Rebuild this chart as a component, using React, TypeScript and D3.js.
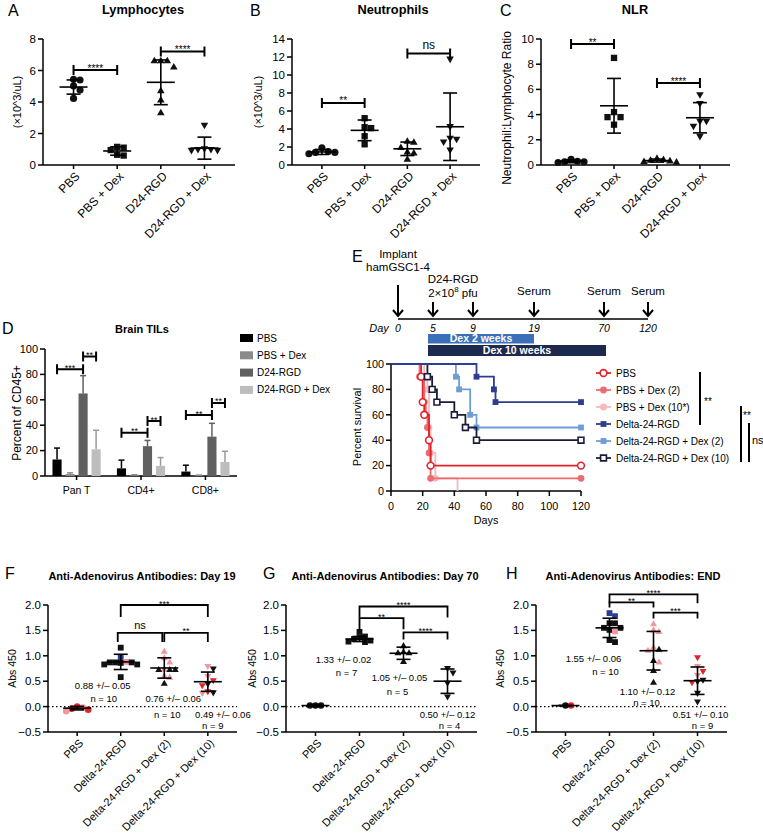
import React from "react";
import * as d3 from "d3";

const FONT = "'Liberation Sans', Arial, Helvetica, sans-serif";
const RED = "#e2232a";
const PINK = "#f2979d";
const BLUE = "#2c3e94";
const BLK = "#111111";
const colorMap: Record<string, string> = { k: BLK, r: RED, p: PINK, b: BLUE };

// ---------------- A–C : blood counts ----------------
const bloodGroups = ["PBS", "PBS + Dex", "D24-RGD", "D24-RGD + Dex"];
const lymphValues = [[5.44, 5.4, 5.02, 4.76, 4.23], [1.15, 1.1, 0.95, 0.65, 0.6], [6.6, 6.6, 6.6, 6.2, 4.7, 4.1, 3.3], [2.55, 1.05, 1.0, 1.0, 0.95, 0.95]];
const lymphMean = [4.95, 0.89, 5.25, 1.07];
const lymphSD = [0.45, 0.27, 1.42, 0.7];
const neutValues = [[1.9, 1.5, 1.4, 1.4, 1.25], [5.2, 4.2, 4.1, 3.2, 2.3], [2.6, 2.5, 1.9, 1.4, 1.3, 0.6], [11.8, 4.3, 3.0, 2.9, 2.6, 1.7]];
const neutMean = [1.45, 3.85, 1.8, 4.25];
const neutSD = [0.28, 1.15, 0.75, 3.75];
const nlrValues = [[0.45, 0.3, 0.25, 0.25, 0.2], [8.5, 4.2, 3.8, 3.8, 3.2], [0.5, 0.4, 0.35, 0.3, 0.25, 0.2], [5.6, 4.9, 3.5, 3.5, 3.1, 2.3]];
const nlrMean = [0.3, 4.7, 0.35, 3.75];
const nlrSD = [0.12, 2.17, 0.12, 1.2];

// ---------------- D : Brain TILs ----------------
const tilGroups = ["Pan T", "CD4+", "CD8+"];
const tilSeries = ["PBS", "PBS + Dex", "D24-RGD", "D24-RGD + Dex"];
const tilMeans = [[13, 1.5, 65, 21], [6, 0.5, 23.5, 8], [3.5, 0.4, 31, 11]];
const tilErr = [[9, 1, 14, 15], [6.5, 0.5, 4.5, 6.5], [5, 0.3, 10.5, 8.5]];

// ---------------- E : timeline & survival ----------------
const timelineDays = [0, 5, 9, 19, 70, 120];
const survivalNames = ["PBS", "PBS + Dex (2)", "PBS + Dex (10*)", "Delta-24-RGD", "Delta-24-RGD + Dex (2)", "Delta-24-RGD + Dex (10)"];
const survPBS = [[0, 100], [19, 90], [20, 70], [21, 60], [24, 40], [25, 20], [120, 20]];
const survPBSDex2 = [[0, 100], [18, 90], [21, 70], [22, 60], [23, 50], [24, 30], [25, 10], [120, 10]];
const survPBSDex10 = [[0, 100], [21, 90], [23, 80], [24, 50], [25, 30], [28, 10], [42, 0]];
const survD24 = [[0, 100], [54, 90], [65, 80], [66, 70], [120, 70]];
const survD24Dex2 = [[0, 100], [41, 90], [43, 80], [50, 60], [54, 50], [120, 50]];
const survD24Dex10 = [[0, 100], [23, 90], [26, 80], [29, 70], [40, 60], [47, 50], [54, 40], [120, 40]];

// ---------------- F–H : antibodies ----------------
const abGroups = ["PBS", "Delta-24-RGD", "Delta-24-RGD + Dex (2)", "Delta-24-RGD + Dex (10)"];
const day19Values = [[0.0, -0.02, -0.04, -0.06, -0.09], [1.16, 0.97, 0.88, 0.87, 0.87, 0.87, 0.86, 0.83, 0.83, 0.58], [1.08, 0.95, 0.87, 0.73, 0.72, 0.72, 0.72, 0.6, 0.57, 0.45], [0.8, 0.75, 0.6, 0.52, 0.45, 0.42, 0.3, 0.28, 0.27]];
const day19Colors = [["r", "p", "r", "r", "p"], ["k", "b", "p", "k", "k", "k", "k", "k", "k", "k"], ["p", "p", "p", "p", "k", "k", "k", "p", "p", "k"], ["p", "k", "p", "r", "k", "r", "r", "k", "p"]];
const day19Mean = [-0.03, 0.88, 0.76, 0.49];
const day19SD = [0.035, 0.15, 0.2, 0.19];
const day70Values = [[0.02, 0.02, 0.02], [1.47, 1.38, 1.36, 1.33, 1.3, 1.28, 1.27], [1.19, 1.07, 1.05, 1.05, 0.88], [0.76, 0.67, 0.47, 0.2]];
const day70Mean = [0.02, 1.33, 1.05, 0.5];
const day70SD = [0.01, 0.05, 0.12, 0.24];
const endValues = [[0.02, 0.02], [1.84, 1.78, 1.64, 1.64, 1.55, 1.55, 1.51, 1.48, 1.31, 1.27], [1.62, 1.5, 1.47, 1.16, 1.12, 1.1, 0.9, 0.87, 0.7, 0.47], [0.97, 0.8, 0.7, 0.62, 0.53, 0.5, 0.48, 0.27, 0.1]];
const endColors = [["k", "r"], ["b", "b", "k", "k", "k", "k", "k", "p", "k", "k"], ["p", "p", "p", "p", "k", "p", "k", "p", "k", "k"], ["r", "p", "r", "p", "k", "k", "r", "k", "k"]];
const endMean = [0.02, 1.55, 1.1, 0.51];
const endSD = [0.005, 0.19, 0.38, 0.27];

// ---------------- helpers ----------------
const symType: Record<string, any> = {
  circle: d3.symbolCircle,
  square: d3.symbolSquare,
  triangle: d3.symbolTriangle,
  invTriangle: d3.symbolTriangle,
};

function Sym({ shape, x, y, size, fill, stroke, sw }: any) {
  const isTri = shape === "triangle" || shape === "invTriangle";
  const path = d3.symbol().type(symType[shape]).size(isTri ? size * 0.62 : size)() as string;
  const rot = shape === "invTriangle" ? " rotate(180)" : "";
  return <path d={path} transform={`translate(${x},${y})${rot}`} fill={fill} stroke={stroke || "none"} strokeWidth={sw || 0} />;
}

function swarm(ys: number[], minDist: number, step: number): number[] {
  const idx = ys.map((_, i) => i).sort((a, b) => ys[a] - ys[b]);
  const placed: [number, number][] = [];
  const out = new Array(ys.length).fill(0);
  for (const i of idx) {
    for (let k = 0; k < 40; k++) {
      const off = k === 0 ? 0 : (k % 2 === 1 ? 1 : -1) * Math.ceil(k / 2) * step;
      if (placed.every(([px, py]) => Math.hypot(px - off, py - ys[i]) >= minDist)) {
        out[i] = off;
        placed.push([off, ys[i]]);
        break;
      }
    }
  }
  return out;
}

function Bracket({ x1, x2, y, label, mode, drop, fs, sw = 2 }: any) {
  const d = mode === "center"
    ? `M${x1},${y - drop}V${y + drop}M${x1},${y}H${x2}M${x2},${y - drop}V${y + drop}`
    : `M${x1},${y + drop}V${y}H${x2}V${y + drop}`;
  const star = label.includes("*");
  return (
    <g>
      <path d={d} fill="none" stroke="#000" strokeWidth={sw} />
      <text x={(x1 + x2) / 2} y={star ? y + 1.5 : y - 4} textAnchor="middle" fontSize={star ? fs : fs + 2} fill="#000">{label}</text>
    </g>
  );
}

function YAxis({ x, scale, ticks, fmt, fs }: any) {
  const [r0, r1] = scale.range();
  return (
    <g>
      <line x1={x} x2={x} y1={r0} y2={r1} stroke="#000" strokeWidth={1.5} />
      {ticks.map((t: number) => (
        <g key={t}>
          <line x1={x - 5} x2={x} y1={scale(t)} y2={scale(t)} stroke="#000" strokeWidth={1.5} />
          <text x={x - 7} y={scale(t)} dy="0.35em" textAnchor="end" fontSize={fs}>{fmt(t)}</text>
        </g>
      ))}
    </g>
  );
}

function ScatterPanel(p: any) {
  const y = d3.scaleLinear().domain(p.domain).range([p.bottom, p.top]);
  const x = d3.scalePoint<number>().domain(d3.range(p.cats.length)).range([p.left, p.right]).padding(p.pad);
  const ticks = d3.range(p.domain[0], p.domain[1] + 1e-9, p.tickStep);
  const axisY = y(p.domain[0]);
  return (
    <g>
      <text x={p.letterX} y={p.letterY} fontSize={16}>{p.letter}</text>
      <text x={p.titleX} y={p.titleY} fontSize={p.titleSize} fontWeight="bold" textAnchor="middle">{p.title}</text>
      <text transform={`translate(${p.ylabelX},${(p.top + p.bottom) / 2 + (p.ylabelDy || 0)}) rotate(-90)`} textAnchor="middle" dy="0.35em" fontSize={p.ylabelSize}>{p.ylabel}</text>
      <YAxis x={p.left} scale={y} ticks={ticks} fmt={p.fmt} fs={p.tickSize} />
      <line x1={p.left} x2={p.right} y1={axisY} y2={axisY} stroke="#000" strokeWidth={1.5} />
      {p.zeroLine && <line x1={p.left} x2={p.right} y1={y(0)} y2={y(0)} stroke="#000" strokeWidth={1.2} strokeDasharray="1.5,2.5" />}
      {p.cats.map((c: string, i: number) => (
        <g key={c}>
          <line x1={x(i)} x2={x(i)} y1={axisY} y2={axisY + 4} stroke="#000" strokeWidth={1.5} />
          <text transform={`translate(${(x(i) as number) + 4},${axisY + 9}) rotate(-45)`} textAnchor="end" dy="0.35em" fontSize={p.labelSize}>{c}</text>
        </g>
      ))}
      {p.values.map((vals: number[], g: number) => {
        const ys = vals.map((v) => y(v));
        const offs = swarm(ys, p.minDist, p.step);
        const cx = x(g) as number;
        return (
          <g key={g}>
            {vals.map((v, j) => (
              <Sym key={j} shape={p.shapes[g]} x={cx + offs[j]} y={ys[j]} size={p.symSize}
                fill={p.colors ? colorMap[p.colors[g][j]] : BLK} />
            ))}
          </g>
        );
      })}
      {p.means.map((m: number, g: number) => {
        const cx = x(g) as number;
        const lo = y(m - p.sds[g]);
        const hi = y(m + p.sds[g]);
        return (
          <g key={"e" + g} stroke="#000" strokeWidth={1.6}>
            <line x1={cx - 14} x2={cx + 14} y1={y(m)} y2={y(m)} />
            <line x1={cx} x2={cx} y1={lo} y2={hi} />
            <line x1={cx - 7} x2={cx + 7} y1={lo} y2={lo} />
            <line x1={cx - 7} x2={cx + 7} y1={hi} y2={hi} />
          </g>
        );
      })}
      {p.brackets.map((b: any, i: number) => (
        <Bracket key={i} x1={(x(b.a) as number) - (b.ia || 0)} x2={(x(b.b) as number) + (b.ib || 0)} y={y(b.v)} label={b.label} mode={p.bracketMode} drop={b.drop} fs={p.starSize} sw={p.bracketWidth} />
      ))}
      {(p.notes || []).map((n: any, i: number) => (
        <text key={i} x={(x(n.cat) as number) + n.dx} y={y(n.v)} dy="0.35em" textAnchor="middle" fontSize={p.noteSize}>{n.text}</text>
      ))}
    </g>
  );
}

function TILPanel() {
  const left = 45, right = 237;
  const y = d3.scaleLinear().domain([0, 100]).range([476, 349]);
  const gx = d3.scalePoint<string>().domain(tilGroups).range([left, right]).padding(0.49);
  const bx = d3.scaleBand<string>().domain(tilSeries).range([-28, 28]).padding(0.3);
  const colors = ["#000000", "#8a8a8a", "#606060", "#bdbdbd"];
  const bc = (g: number, s: number) => (gx(tilGroups[g]) as number) + (bx(tilSeries[s]) as number) + bx.bandwidth() / 2;
  const brackets = [
    { g: 0, a: 0, b: 2, v: 84, label: "***" }, { g: 0, a: 2, b: 3, v: 94, label: "**" },
    { g: 1, a: 0, b: 2, v: 34, label: "**" }, { g: 1, a: 2, b: 3, v: 43.3, label: "**" },
    { g: 2, a: 0, b: 2, v: 48, label: "**" }, { g: 2, a: 2, b: 3, v: 57.5, label: "**" },
  ];
  return (
    <g>
      <text x={2} y={334} fontSize={16}>D</text>
      <text x={142} y={333} fontSize={11} fontWeight="bold" textAnchor="middle">Brain TILs</text>
      <text transform={`translate(17,413) rotate(-90)`} textAnchor="middle" dy="0.35em" fontSize={12}>Percent of CD45+</text>
      <YAxis x={left} scale={y} ticks={d3.range(0, 101, 20)} fmt={(d: number) => String(d)} fs={11} />
      <line x1={left} x2={right} y1={476} y2={476} stroke="#000" strokeWidth={1.5} />
      {tilGroups.map((g, gi) => (
        <g key={g}>
          <line x1={gx(g)} x2={gx(g)} y1={476} y2={480} stroke="#000" strokeWidth={1.5} />
          <text x={gx(g)} y={494} textAnchor="middle" fontSize={10.5}>{g}</text>
          {tilSeries.map((s, si) => {
            const m = tilMeans[gi][si];
            const e = tilErr[gi][si];
            const cx = bc(gi, si);
            return (
              <g key={s}>
                <line x1={cx} x2={cx} y1={y(m)} y2={y(m + e)} stroke={si === 3 ? "#9a9a9a" : colors[si]} strokeWidth={1.5} />
                <line x1={cx - 3} x2={cx + 3} y1={y(m + e)} y2={y(m + e)} stroke={si === 3 ? "#9a9a9a" : colors[si]} strokeWidth={1.5} />
                <rect x={cx - bx.bandwidth() / 2} width={bx.bandwidth()} y={y(m)} height={476 - y(m)} fill={colors[si]} />
              </g>
            );
          })}
        </g>
      ))}
      {brackets.map((b, i) => (
        <Bracket key={i} x1={bc(b.g, b.a)} x2={bc(b.g, b.b)} y={y(b.v)} label={b.label} mode="center" drop={5} fs={9} sw={2} />
      ))}
      {tilSeries.map((s, i) => (
        <g key={s}>
          <rect x={240} y={334 + i * 17.3} width={13} height={8} fill={colors[i]} />
          <text x={257} y={338 + i * 17.3} dy="0.35em" fontSize={10}>{s}</text>
        </g>
      ))}
    </g>
  );
}

function TimelinePanel() {
  const tl = d3.scaleLinear().domain(timelineDays).range([0, 0.14, 0.3, 0.544, 0.824, 1].map((f) => 398 + f * 250));
  const lineY = 319;
  const arrow = (x: number, y0: number, key: string) => (
    <g key={key} stroke="#000" strokeWidth={2} fill="none">
      <line x1={x} x2={x} y1={y0} y2={lineY - 3} />
      <path d={`M${x - 5},${lineY - 9}L${x},${lineY - 3}L${x + 5},${lineY - 9}`} />
    </g>
  );
  return (
    <g>
      <text x={352} y={262} fontSize={16}>E</text>
      <text x={tl(0)} y={258} textAnchor="middle" fontSize={11.5}>Implant</text>
      <text x={tl(0)} y={271} textAnchor="middle" fontSize={11.5}>hamGSC1-4</text>
      <text x={(tl(5) + tl(9)) / 2} y={283} textAnchor="middle" fontSize={11.5}>D24-RGD</text>
      <text x={(tl(5) + tl(9)) / 2} y={297} textAnchor="middle" fontSize={11.5}>2×10<tspan fontSize={8} dy={-5}>8</tspan><tspan dy={5}> pfu</tspan></text>
      {[19, 70, 120].map((d) => (
        <text key={d} x={tl(d)} y={295} textAnchor="middle" fontSize={11.5}>Serum</text>
      ))}
      {arrow(tl(0), 285, "a0")}
      {timelineDays.slice(1).map((d) => arrow(tl(d), 302, "a" + d))}
      <line x1={tl(0)} x2={tl(120)} y1={lineY} y2={lineY} stroke="#000" strokeWidth={1.5} />
      <text x={379} y={332} textAnchor="middle" fontSize={11} fontStyle="italic">Day</text>
      {timelineDays.map((d) => (
        <text key={d} x={tl(d)} y={332} textAnchor="middle" fontSize={10.5} fontStyle="italic">{d}</text>
      ))}
      <rect x={tl(5) - 5} y={334} width={tl(19) - tl(5) + 5} height={9.5} fill="#3b70b8" />
      <text x={(tl(5) - 5 + tl(19)) / 2} y={338.8} dy="0.35em" textAnchor="middle" fontSize={10.5} fontWeight="bold" fill="#fff">Dex 2 weeks</text>
      <rect x={tl(5) - 5} y={345} width={tl(70) - tl(5) + 7} height={11} fill="#1d2a50" />
      <text x={(tl(5) - 5 + tl(70) + 2) / 2} y={350.5} dy="0.35em" textAnchor="middle" fontSize={10.5} fontWeight="bold" fill="#fff">Dex 10 weeks</text>
    </g>
  );
}

function SurvivalPanel() {
  const x = d3.scaleLinear().domain([0, 120]).range([391, 581]);
  const y = d3.scaleLinear().domain([0, 100]).range([491, 364]);
  const data = [survPBS, survPBSDex2, survPBSDex10, survD24, survD24Dex2, survD24Dex10];
  const styles = [
    { c: RED, shape: "circle", open: true },
    { c: "#ec6b70", shape: "circle", open: false },
    { c: "#f6b9bc", shape: "circle", open: false },
    { c: "#2e3c91", shape: "square", open: false },
    { c: "#6d9fd6", shape: "square", open: false },
    { c: "#1a1d3a", shape: "square", open: true },
  ];
  const order = [2, 1, 0, 4, 5, 3];
  const line = d3.line<number[]>().x((d) => x(d[0])).y((d) => y(d[1])).curve(d3.curveStepAfter);
  const mk = (s: any, px: number, py: number, key: any) => (
    <Sym key={key} shape={s.shape} x={px} y={py} size={s.shape === "circle" ? 36 : 34}
      fill={s.open ? "#fff" : s.c} stroke={s.c} sw={s.open ? 1.6 : 0} />
  );
  return (
    <g>
      <text transform={`translate(357,427) rotate(-90)`} textAnchor="middle" dy="0.35em" fontSize={11}>Percent survival</text>
      <YAxis x={391} scale={y} ticks={d3.range(0, 101, 20)} fmt={(d: number) => String(d)} fs={10.8} />
      <line x1={391} x2={581} y1={491} y2={491} stroke="#000" strokeWidth={1.5} />
      {d3.range(0, 121, 20).map((t) => (
        <g key={t}>
          <line x1={x(t)} x2={x(t)} y1={491} y2={496} stroke="#000" strokeWidth={1.5} />
          <text x={x(t)} y={506} dy="0.35em" textAnchor="middle" fontSize={10.8}>{t}</text>
        </g>
      ))}
      <text x={486} y={520} dy="0.35em" textAnchor="middle" fontSize={10.8}>Days</text>
      {order.map((i) => (
        <g key={i}>
          <path d={line(data[i]) as string} fill="none" stroke={styles[i].c} strokeWidth={1.8} />
          {data[i].slice(1).filter((d) => d[1] > 0).map((d, j) => mk(styles[i], x(d[0]), y(d[1]), j))}
        </g>
      ))}
      {survivalNames.map((n, i) => (
        <g key={n}>
          <line x1={596} x2={611} y1={373 + i * 17} y2={373 + i * 17} stroke={styles[i].c} strokeWidth={1.8} />
          {mk(styles[i], 603.5, 373 + i * 17, "m")}
          <text x={616} y={373 + i * 17} dy="0.35em" fontSize={10}>{n}</text>
        </g>
      ))}
      <line x1={700} x2={700} y1={372} y2={425} stroke="#000" strokeWidth={2} />
      <text x={704} y={405} fontSize={10} fill="#000">**</text>
      <line x1={741} x2={741} y1={406} y2={462} stroke="#000" strokeWidth={2} />
      <text x={743} y={419} fontSize={10} fill="#000">**</text>
      <line x1={749} x2={749} y1={423} y2={462} stroke="#000" strokeWidth={2} />
      <text x={752} y={444} fontSize={11} fill="#000">ns</text>
    </g>
  );
}

const bloodCommon = {
  top: 39, bottom: 165, pad: 0.7, cats: bloodGroups,
  shapes: ["circle", "square", "triangle", "invTriangle"],
  titleY: 14, titleSize: 12.8, letterY: 16, tickSize: 11.5, labelSize: 12,
  ylabelSize: 11, symSize: 40, minDist: 6.5, step: 6.5, bracketMode: "center",
  starSize: 10, bracketWidth: 2, noteSize: 9.5,
};

const abCommon = {
  top: 605, bottom: 732, pad: 0.67, cats: abGroups, domain: [-0.5, 2.0], tickStep: 0.5,
  fmt: (d: number) => (d < 0 ? "\u2212" : "") + Math.abs(d).toFixed(1),
  shapes: ["circle", "square", "triangle", "invTriangle"],
  titleY: 580, titleSize: 11, letterY: 579, tickSize: 11.5, labelSize: 11,
  ylabel: "Abs 450", ylabelSize: 10.5, symSize: 34, minDist: 5.5, step: 5.5,
  bracketMode: "down", starSize: 9, bracketWidth: 1.8, noteSize: 9.5, zeroLine: true,
};

export default function App() {
  return (
    <svg width={763} height={839} style={{ position: "absolute", left: 0, top: 0, background: "#fff" }} fontFamily={FONT}>
      <ScatterPanel {...bloodCommon} left={43} right={235} domain={[0, 8]} tickStep={2} fmt={(d: number) => String(d)}
        values={lymphValues} means={lymphMean} sds={lymphSD} title="Lymphocytes" titleX={143} letter="A" letterX={8}
        ylabel="(×10^3/uL)" ylabelX={17}
        brackets={[{ a: 0, b: 1, v: 6.03, label: "****", drop: 5 }, { a: 2, b: 3, v: 7.2, label: "****", drop: 5 }]} />
      <ScatterPanel {...bloodCommon} left={292} right={480} domain={[0, 14]} tickStep={2} fmt={(d: number) => String(d)}
        values={neutValues} means={neutMean} sds={neutSD} title="Neutrophils" titleX={393} letter="B" letterX={250}
        ylabel="(×10^3/uL)" ylabelX={258}
        brackets={[{ a: 0, b: 1, v: 6.9, label: "**", drop: 5 }, { a: 2, b: 3, v: 12.4, label: "ns", drop: 5 }]} />
      <ScatterPanel {...bloodCommon} left={541} right={730} domain={[0, 10]} tickStep={2} fmt={(d: number) => String(d)}
        values={nlrValues} means={nlrMean} sds={nlrSD} title="NLR" titleX={635} letter="C" letterX={500}
        ylabel="Neutrophil:Lymphocyte Ratio" ylabelX={507} ylabelSize={12} ylabelDy={6}
        brackets={[{ a: 0, b: 1, v: 9.6, label: "**", drop: 5 }, { a: 2, b: 3, v: 6.5, label: "****", drop: 5 }]} />
      <TILPanel />
      <TimelinePanel />
      <SurvivalPanel />
      <ScatterPanel {...abCommon} left={48} right={237} values={day19Values} colors={day19Colors} means={day19Mean} sds={day19SD}
        title="Anti-Adenovirus Antibodies: Day 19" titleX={142} letter="F" letterX={5} ylabelX={12}
        brackets={[{ a: 1, b: 3, v: 2.0, label: "***", drop: 12 }, { a: 1, b: 2, v: 1.45, label: "ns", drop: 9, ia: 3, ib: -2 }, { a: 2, b: 3, v: 1.45, label: "**", drop: 9 }]}
        notes={[{ text: "0.88 +/\u2013 0.05", cat: 1, dx: -18, v: 0.41 }, { text: "n = 10", cat: 1, dx: -17, v: 0.16 },
          { text: "0.76 +/\u2013 0.06", cat: 2, dx: 9, v: 0.16 }, { text: "n = 10", cat: 2, dx: 3, v: -0.16 },
          { text: "0.49 +/\u2013 0.06", cat: 3, dx: 15, v: -0.16 }, { text: "n = 9", cat: 3, dx: 5, v: -0.37 }]} />
      <ScatterPanel {...abCommon} left={286} right={477} values={day70Values} means={day70Mean} sds={day70SD}
        title="Anti-Adenovirus Antibodies: Day 70" titleX={385} letter="G" letterX={263} ylabelX={252}
        brackets={[{ a: 1, b: 3, v: 1.97, label: "****", drop: 11 }, { a: 1, b: 2, v: 1.74, label: "**", drop: 11 }, { a: 2, b: 3, v: 1.46, label: "****", drop: 7 }]}
        notes={[{ text: "1.33 +/\u2013 0.02", cat: 1, dx: -16, v: 0.92 }, { text: "n = 7", cat: 1, dx: -13, v: 0.66 },
          { text: "1.05 +/\u2013 0.05", cat: 2, dx: -4, v: 0.57 }, { text: "n = 5", cat: 2, dx: -6, v: 0.29 },
          { text: "0.50 +/\u2013 0.12", cat: 3, dx: 0, v: -0.16 }, { text: "n = 4", cat: 3, dx: 2, v: -0.37 }]} />
      <ScatterPanel {...abCommon} left={536} right={727} values={endValues} colors={endColors} means={endMean} sds={endSD}
        title="Anti-Adenovirus Antibodies: END" titleX={633} letter="H" letterX={506} ylabelX={500}
        brackets={[{ a: 1, b: 3, v: 2.21, label: "****", drop: 9 }, { a: 1, b: 2, v: 2.05, label: "**", drop: 5 }, { a: 2, b: 3, v: 1.85, label: "***", drop: 6 }]}
        notes={[{ text: "1.55 +/\u2013 0.06", cat: 1, dx: -16, v: 0.94 }, { text: "n = 10", cat: 1, dx: -4, v: 0.68 },
          { text: "1.10 +/\u2013 0.12", cat: 2, dx: -6, v: 0.3 }, { text: "n = 10", cat: 2, dx: -7, v: 0.07 },
          { text: "0.51 +/\u2013 0.10", cat: 3, dx: 3, v: -0.16 }, { text: "n = 9", cat: 3, dx: 5, v: -0.37 }]} />
    </svg>
  );
}
